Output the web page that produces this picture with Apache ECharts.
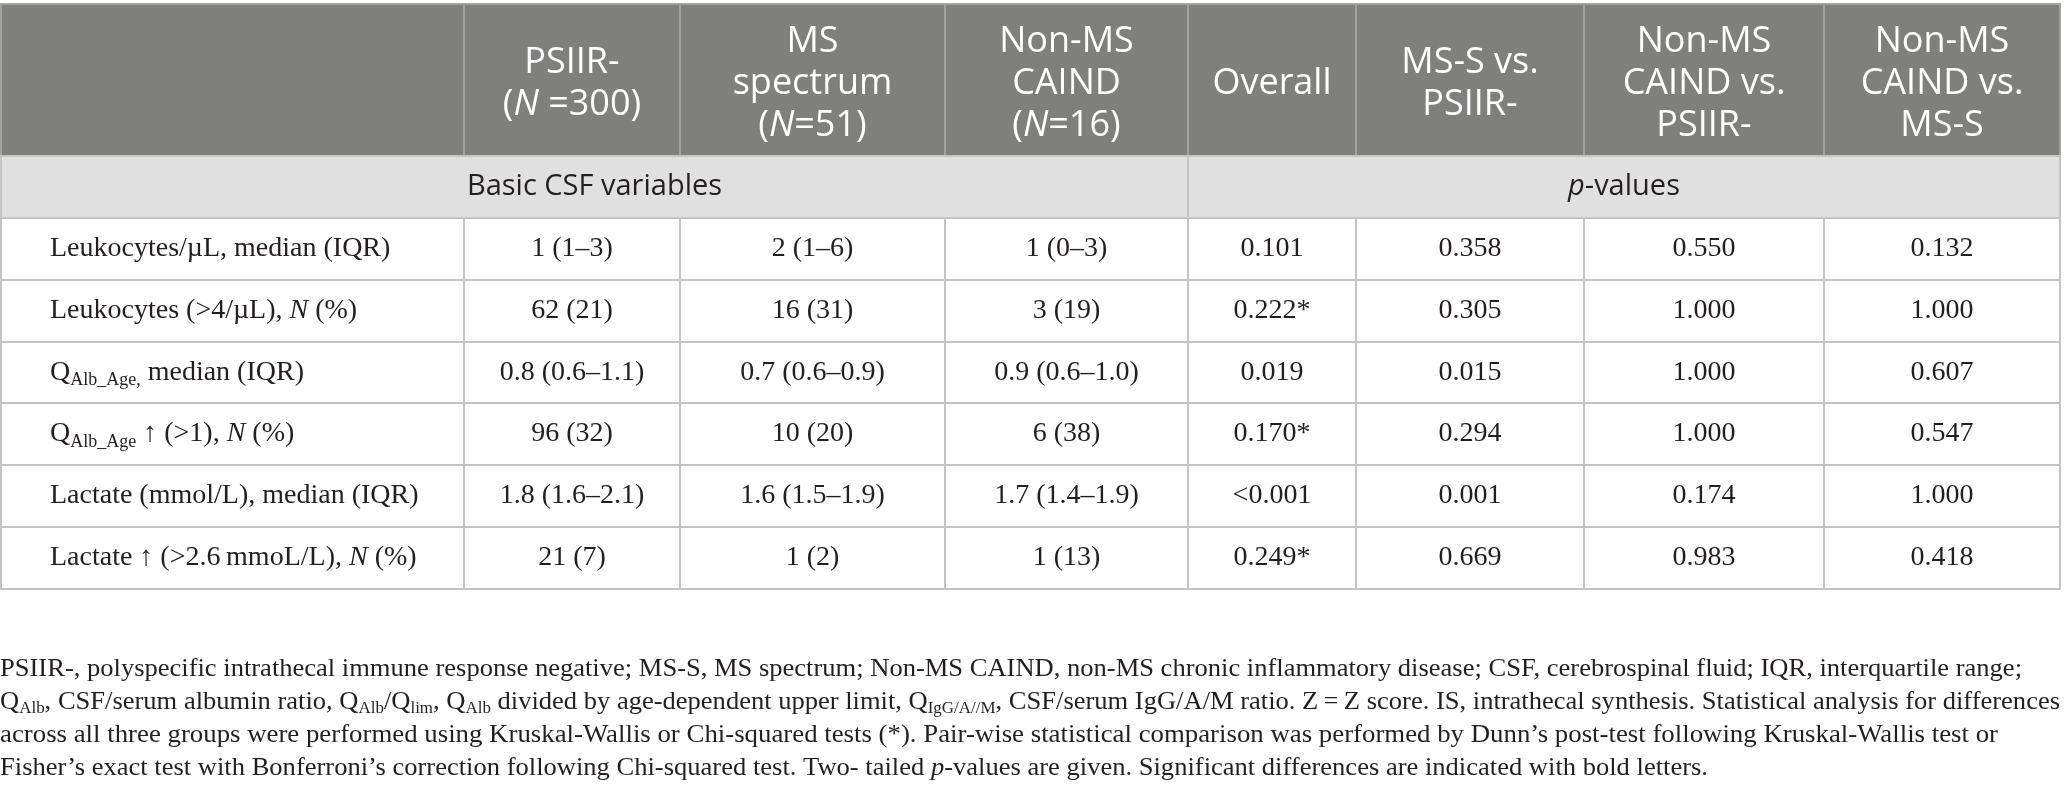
<!DOCTYPE html>
<html>
<head>
<meta charset="utf-8">
<title>Basic CSF variables</title>
<script src="https://cdn.jsdelivr.net/npm/echarts@6/dist/echarts.min.js"></script>
<style>
  html, body { margin: 0; padding: 0; background: #fff; }
  #chart { width: 2064px; height: 804px; }
</style>
</head>
<body>
<div id="chart"></div>
<script>
// --- DATA (markup: <i>..</i> italic, <sub>..</sub> subscript) ---
const columnHeaders = [
  '',
  'PSIIR-\n(<i>N</i> =300)',
  'MS\nspectrum\n(<i>N</i>=51)',
  'Non-MS\nCAIND\n(<i>N</i>=16)',
  'Overall',
  'MS-S vs.\nPSIIR-',
  'Non-MS\nCAIND vs.\nPSIIR-',
  'Non-MS\nCAIND vs.\nMS-S'
];
const sectionLabels = ['Basic CSF variables', '<i>p</i>-values'];
const rowLabels = [
  'Leukocytes/µL, median (IQR)',
  'Leukocytes (>4/µL), <i>N</i> (%)',
  'Q<sub>Alb_Age,</sub> median (IQR)',
  'Q<sub>Alb_Age</sub> ↑ (>1), <i>N</i> (%)',
  'Lactate (mmol/L), median (IQR)',
  'Lactate ↑ (>2.6\u2009mmoL/L), <i>N</i> (%)'
];
const psiirNeg = ['1 (1–3)', '62 (21)', '0.8 (0.6–1.1)', '96 (32)', '1.8 (1.6–2.1)', '21 (7)'];
const msSpectrum = ['2 (1–6)', '16 (31)', '0.7 (0.6–0.9)', '10 (20)', '1.6 (1.5–1.9)', '1 (2)'];
const nonMsCaind = ['1 (0–3)', '3 (19)', '0.9 (0.6–1.0)', '6 (38)', '1.7 (1.4–1.9)', '1 (13)'];
const pOverall = ['0.101', '0.222*', '0.019', '0.170*', '<0.001', '0.249*'];
const pMsVsPsiir = ['0.358', '0.305', '0.015', '0.294', '0.001', '0.669'];
const pNonMsVsPsiir = ['0.550', '1.000', '1.000', '1.000', '0.174', '0.983'];
const pNonMsVsMs = ['0.132', '1.000', '0.607', '0.547', '1.000', '0.418'];
const footnoteLines = [
  'PSIIR-, polyspecific intrathecal immune response negative; MS-S, MS spectrum; Non-MS CAIND, non-MS chronic inflammatory disease; CSF, cerebrospinal fluid; IQR, interquartile range;',
  'Q<sub>Alb</sub>, CSF/serum albumin ratio, Q<sub>Alb</sub>/Q<sub>lim</sub>, Q<sub>Alb</sub> divided by age-dependent upper limit, Q<sub>IgG/A//M</sub>, CSF/serum IgG/A/M ratio. Z\u2009=\u2009Z score. IS, intrathecal synthesis. Statistical analysis for differences',
  'across all three groups were performed using Kruskal-Wallis or Chi-squared tests (*). Pair-wise statistical comparison was performed by Dunn’s post-test following Kruskal-Wallis test or',
  'Fisher’s exact test with Bonferroni’s correction following Chi-squared test. Two- tailed <i>p</i>-values are given. Significant differences are indicated with bold letters.'
];

// --- LAYOUT (table units = px) ---
const COL_WIDTHS = [463, 216, 265, 243, 168, 228, 240, 236];
const ROW_HEIGHTS = [152, 62, 62, 62, 61, 62, 62, 62];
const SECTION_SPANS = [[0, 4], [4, 8]];
const TABLE_LEFT = 1, TABLE_TOP = 4;
const HEADER_TEXT_SHIFT = 4;
const FOOT_TOP = 669, FOOT_LINE_H = 33;
const FOOT_LINE_WIDTHS = [2022, 2060, 1998, 1708];   // measured line lengths in the reference

const colEdges = [0];
COL_WIDTHS.forEach(w => colEdges.push(colEdges[colEdges.length - 1] + w));
const rowEdges = [0];
ROW_HEIGHTS.forEach(h => rowEdges.push(rowEdges[rowEdges.length - 1] + h));
const tableW = colEdges[colEdges.length - 1];
const tableH = rowEdges[rowEdges.length - 1];

// markup -> echarts rich string
function toRich(str) {
  return str.split('\n').map(line => {
    let out = '', last = 0;
    line.replace(/<(i|sub)>(.*?)<\/\1>/g, (m, tag, inner, idx) => {
      if (idx > last) out += '{n|' + line.slice(last, idx) + '}';
      out += '{' + (tag === 'i' ? 'i' : 's') + '|' + inner + '}';
      last = idx + m.length;
      return m;
    });
    if (last < line.length) out += '{n|' + line.slice(last) + '}';
    return out || ' ';
  }).join('\n');
}

const HEAD_FONT = "'Open Sans', 'Noto Sans', sans-serif";
const BODY_FONT = "'Liberation Serif', 'DejaVu Serif', serif";
const INK = '#231f20';
const STYLES = {
  header: {
    fill: '#7f807e', stroke: '#a2a3a1', shift: HEADER_TEXT_SHIFT,
    rich: {
      n: { fontFamily: HEAD_FONT, fontSize: 36, lineHeight: 42, fill: '#ffffff' },
      i: { fontFamily: HEAD_FONT, fontSize: 36, lineHeight: 42, fill: '#ffffff', fontStyle: 'italic' }
    }
  },
  section: {
    fill: '#e1e0e1', stroke: '#c4c4c4', shift: 0,
    rich: {
      n: { fontFamily: HEAD_FONT, fontSize: 29, lineHeight: 34, fill: INK },
      i: { fontFamily: HEAD_FONT, fontSize: 29, lineHeight: 34, fill: INK, fontStyle: 'italic' }
    }
  },
  body: {
    fill: '#ffffff', stroke: '#c4c4c4', shift: 0,
    rich: {
      n: { fontFamily: BODY_FONT, fontSize: 28, lineHeight: 34, fill: INK },
      i: { fontFamily: BODY_FONT, fontSize: 28, lineHeight: 34, fill: INK, fontStyle: 'italic' },
      s: { fontFamily: BODY_FONT, fontSize: 18, lineHeight: 16, fill: INK, verticalAlign: 'bottom' }
    }
  }
};
const FOOT_RICH = {
  n: { fontFamily: BODY_FONT, fontSize: 25, lineHeight: 30, fill: INK },
  i: { fontFamily: BODY_FONT, fontSize: 25, lineHeight: 30, fill: INK, fontStyle: 'italic' },
  s: { fontFamily: BODY_FONT, fontSize: 16, lineHeight: 18, fill: INK, verticalAlign: 'bottom' }
};

// width of a rich string, used to fit each footnote line to its reference length
const measureCtx = document.createElement('canvas').getContext('2d');
function richWidth(str, rich) {
  let w = 0;
  str.replace(/\{(\w)\|([^}]*)\}/g, (m, key, txt) => {
    const s = rich[key];
    measureCtx.font = (s.fontStyle === 'italic' ? 'italic ' : '') + s.fontSize + 'px ' + s.fontFamily;
    w += measureCtx.measureText(txt).width;
    return m;
  });
  return w;
}

// cells: value = [x0, x1, y0, y1] in table units
const cells = [];
function addCell(c0, c1, r, text, kind, align) {
  cells.push({ value: [colEdges[c0], colEdges[c1], rowEdges[r], rowEdges[r + 1]], text: text, kind: kind, align: align });
}
columnHeaders.forEach((h, c) => addCell(c, c + 1, 0, h, 'header', 'center'));
SECTION_SPANS.forEach((sp, k) => addCell(sp[0], sp[1], 1, sectionLabels[k], 'section', 'center'));
const valueColumns = [psiirNeg, msSpectrum, nonMsCaind, pOverall, pMsVsPsiir, pNonMsVsPsiir, pNonMsVsMs];
rowLabels.forEach((lab, r) => {
  addCell(0, 1, r + 2, lab, 'body', 'left');
  valueColumns.forEach((col, c) => addCell(c + 1, c + 2, r + 2, col[r], 'body', 'center'));
});

function renderCell(params, api) {
  const cell = cells[params.dataIndex];
  const p0 = api.coord([api.value(0), api.value(2)]);
  const p1 = api.coord([api.value(1), api.value(3)]);
  const st = STYLES[cell.kind];
  const x = p0[0], y = p0[1], w = p1[0] - p0[0], h = p1[1] - p0[1];
  const tx = cell.align === 'left' ? x + 49 : x + w / 2;
  return {
    type: 'group',
    children: [
      { type: 'rect', shape: { x: x, y: y, width: w, height: h },
        style: { fill: st.fill, stroke: st.stroke, lineWidth: 2 } },
      { type: 'text', x: tx, y: y + h / 2 + st.shift,
        style: { text: toRich(cell.text), rich: st.rich, align: cell.align, verticalAlign: 'middle' } }
    ]
  };
}

const footnoteGraphics = footnoteLines.map((line, k) => {
  const txt = toRich(line);
  const natural = richWidth(txt, FOOT_RICH);
  return {
    type: 'text',
    x: 0,
    y: FOOT_TOP + k * FOOT_LINE_H,
    scaleX: natural > 0 ? FOOT_LINE_WIDTHS[k] / natural : 1,
    silent: true,
    style: { text: txt, rich: FOOT_RICH, align: 'left', verticalAlign: 'middle' }
  };
});

const chart = echarts.init(document.getElementById('chart'));
chart.setOption({
  animation: false,
  grid: { left: TABLE_LEFT, top: TABLE_TOP, width: tableW, height: tableH },
  xAxis: { type: 'value', min: 0, max: tableW, show: false },
  yAxis: { type: 'value', min: 0, max: tableH, inverse: true, show: false },
  series: [{
    type: 'custom',
    renderItem: renderCell,
    encode: { x: [0, 1], y: [2, 3] },
    data: cells.map(c => c.value),
    silent: true
  }],
  graphic: footnoteGraphics
});
</script>
</body>
</html>
